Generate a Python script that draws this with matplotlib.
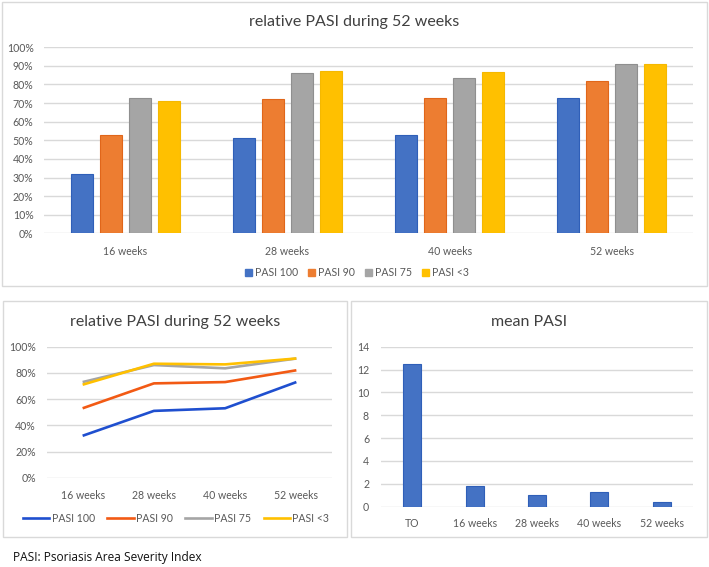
import matplotlib
matplotlib.use("Agg")
import matplotlib.pyplot as plt
import numpy as np
from matplotlib.patches import Rectangle, Patch
from matplotlib.lines import Line2D

# ---- data ----
weeks = ["16 weeks", "28 weeks", "40 weeks", "52 weeks"]
series_names = ["PASI 100", "PASI 90", "PASI 75", "PASI <3"]
pasi100 = [0.32, 0.51, 0.53, 0.73]
pasi90 = [0.53, 0.72, 0.73, 0.82]
pasi75 = [0.73, 0.86, 0.835, 0.91]
pasi_lt3 = [0.71, 0.87, 0.865, 0.91]
mean_cats = ["TO", "16 weeks", "28 weeks", "40 weeks", "52 weeks"]
mean_pasi = [12.45, 1.85, 1.05, 1.25, 0.45]
pct_ticks_top = [0, 0.1, 0.2, 0.3, 0.4, 0.5, 0.6, 0.7, 0.8, 0.9, 1.0]
pct_ticks_line = [0, 0.2, 0.4, 0.6, 0.8, 1.0]
mean_ticks = [0, 2, 4, 6, 8, 10, 12, 14]

bar_colors = ["#4472C4", "#ED7D31", "#A5A5A5", "#FFC000"]
bar_edges = ["#2F5FB8", "#E0661A", "#8F8F8F", "#F5B800"]
line_colors = ["#1F4FCF", "#F25A14", "#A5A5A5", "#FFC000"]
TXT = "#595959"
GRID = "#D9D9D9"
FONT = "Lato"
FS = 7.6

W, H = 709, 567
fig = plt.figure(figsize=(W / 100, H / 100), dpi=100)
plt.rcParams["font.family"] = [FONT, "DejaVu Sans"]


def ax_at(x0, y0, x1, y1):
    return fig.add_axes([x0 / W, 1 - y1 / H, (x1 - x0) / W, (y1 - y0) / H])


def box(x0, y0, x1, y1):
    fig.add_artist(Rectangle((x0 / W, 1 - y1 / H), (x1 - x0) / W, (y1 - y0) / H,
                             transform=fig.transFigure, fill=False,
                             edgecolor=GRID, lw=1.0))


def style(ax):
    for s in ax.spines.values():
        s.set_visible(False)
    ax.tick_params(length=0, colors=TXT, labelsize=FS)
    ax.yaxis.grid(True, color=GRID, lw=1.0)
    ax.set_axisbelow(True)


box(2, 2, 707, 286)
box(3, 301, 347, 537)
box(351, 301, 707, 537)

# ---- top grouped bar chart ----
ax1 = ax_at(44, 47.3, 693, 233.3)
style(ax1)
x = np.arange(len(weeks))
width, step = 0.136, 0.179
all_series = [pasi100, pasi90, pasi75, pasi_lt3]
for i, (vals, c, ec) in enumerate(zip(all_series, bar_colors, bar_edges)):
    ax1.bar(x + (i - 1.5) * step, vals, width, color=c, edgecolor=ec, lw=0.8,
            label=series_names[i], zorder=2)
ax1.set_xlim(-0.5, 3.5)
ax1.set_ylim(0, 1.0)
ax1.set_yticks(pct_ticks_top)
ax1.set_yticklabels([f"{int(round(t * 100))}%" for t in pct_ticks_top])
ax1.set_xticks(x)
ax1.set_xticklabels(weeks)
ax1.tick_params(axis="y", pad=7.5)
ax1.tick_params(axis="x", pad=9)
fig.text(354 / W, 1 - 22 / H, "relative PASI during 52 weeks", ha="center",
         va="center", fontsize=11.5, color="#404040")
handles = [Patch(facecolor=c, edgecolor=c) for c in bar_colors]
fig.legend(handles, series_names, loc="center", bbox_to_anchor=(357 / W, 1 - 273 / H),
           ncol=4, frameon=False, fontsize=FS, handlelength=0.6, handleheight=0.6,
           handletextpad=0.3, columnspacing=1.0, labelcolor=TXT)

# ---- bottom-left line chart ----
ax2 = ax_at(47, 346.7, 332, 477.7)
style(ax2)
for vals, c, name in zip(all_series, line_colors, series_names):
    ax2.plot(x, vals, color=c, lw=1.9, label=name, solid_capstyle="butt", zorder=3)
ax2.set_xlim(-0.5, 3.5)
ax2.set_ylim(0, 1.0)
ax2.set_yticks(pct_ticks_line)
ax2.set_yticklabels([f"{int(round(t * 100))}%" for t in pct_ticks_line])
ax2.set_xticks(x)
ax2.set_xticklabels(weeks)
ax2.tick_params(axis="y", pad=8)
ax2.tick_params(axis="x", pad=9)
fig.text(175 / W, 1 - 322 / H, "relative PASI during 52 weeks", ha="center",
         va="center", fontsize=11.5, color="#404040")
lh = [Line2D([0], [0], color=c, lw=1.9) for c in line_colors]
fig.legend(lh, series_names, loc="center", bbox_to_anchor=(176 / W, 1 - 518 / H),
           ncol=4, frameon=False, fontsize=FS, handlelength=2.5,
           handletextpad=0.2, columnspacing=1.2, labelcolor=TXT)

# ---- bottom-right mean PASI ----
ax3 = ax_at(381, 346.7, 693, 506.7)
style(ax3)
xm = np.arange(len(mean_cats))
ax3.bar(xm, mean_pasi, 0.29, color="#4472C4", edgecolor="#2F5FB8", lw=0.8, zorder=2)
ax3.set_xlim(-0.5, len(mean_cats) - 0.5)
ax3.set_ylim(0, 14)
ax3.set_yticks(mean_ticks)
ax3.set_xticks(xm)
ax3.set_xticklabels(mean_cats)
ax3.tick_params(axis="y", pad=8.6)
ax3.tick_params(axis="x", pad=8)
fig.text(529 / W, 1 - 322 / H, "mean PASI", ha="center", va="center",
         fontsize=11.5, color="#404040")

fig.text(13 / W, 1 - 558 / H, "PASI: Psoriasis Area Severity Index", ha="left",
         va="center", fontsize=8.6, color="#111111", family=["Open Sans", "DejaVu Sans"])

fig.savefig("out.png", dpi=100, facecolor="white")
